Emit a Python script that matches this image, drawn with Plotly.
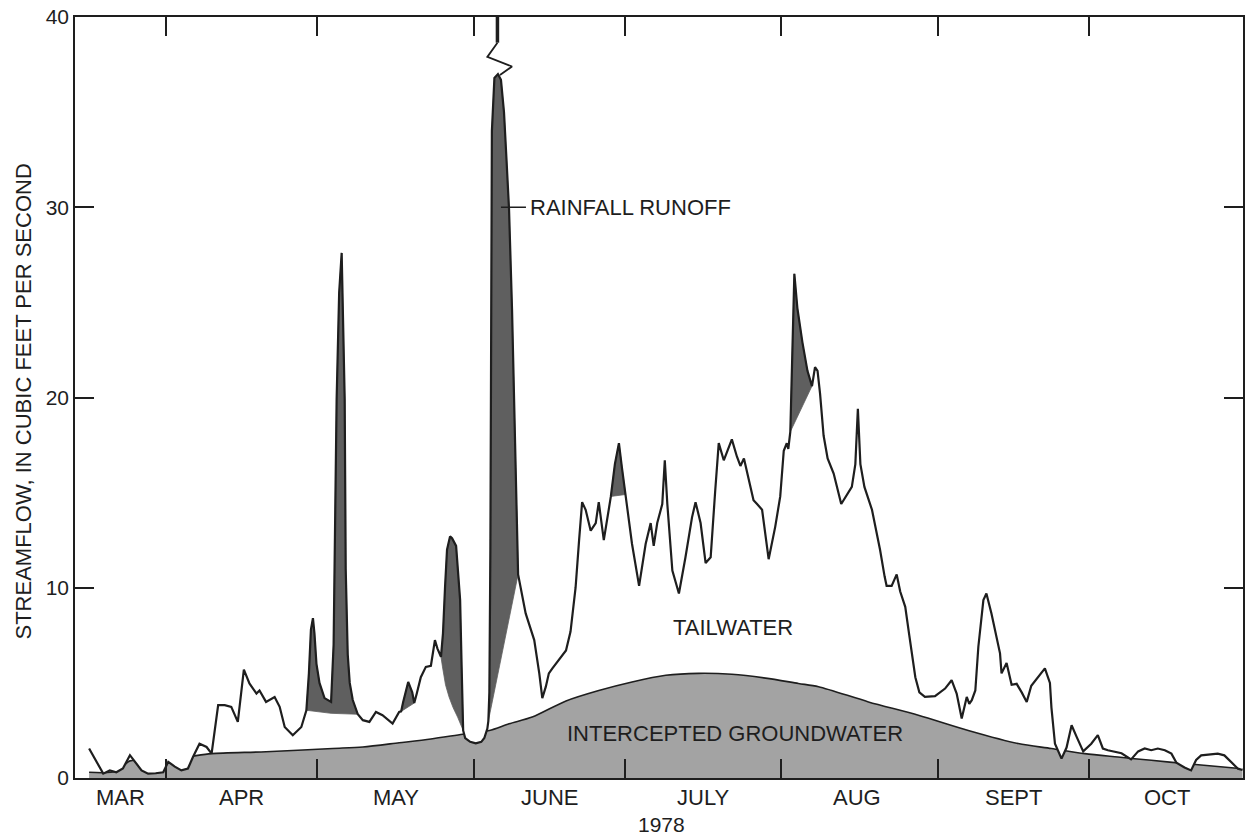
import plotly.graph_objects as go

# ---- streamflow record, 1978 (x = day of year, y = cubic feet per second) ----
flow_doy = [
    75.7, 78.5, 79.8, 81.1, 82.4, 83.8, 86.1, 87.4, 88.9, 90.4, 91.4, 92.7, 94.0, 95.3,
    96.3, 97.6, 99.0, 100.0, 101.3, 102.6, 103.9, 105.2, 106.4, 107.5, 108.9, 109.5,
    110.8, 112.5, 113.5, 114.5, 116.1, 117.8, 118.8, 119.3, 119.7, 120.1, 120.4, 120.8,
    121.4, 122.4, 123.7, 124.2, 124.8, 125.3, 125.8, 126.1, 126.4, 126.6, 127.0, 127.4,
    128.0, 129.0, 130.0, 131.3, 132.6, 133.9, 135.9, 137.2, 137.6, 138.0, 139.0, 139.8,
    140.2, 140.7, 141.5, 142.5, 143.5, 144.3, 144.8, 145.5, 145.9, 146.3, 146.7, 147.3,
    147.7, 148.5, 149.3, 149.6, 149.8, 149.9, 150.3, 151.3, 152.4, 153.5, 154.1, 154.7,
    154.9, 155.1, 155.3, 155.4, 155.6, 156.1, 156.8, 157.4, 158.0, 158.5, 159.0, 159.6,
    160.0, 160.4, 160.8, 162.3, 164.0, 165.0, 165.6, 166.3, 166.9, 167.6, 168.9, 170.3,
    171.2, 172.2, 172.9, 173.5, 174.2, 175.2, 176.2, 176.8, 177.8, 179.2, 180.0, 180.8,
    181.4, 182.1, 183.4, 184.8, 186.1, 187.1, 187.7, 188.4, 189.4, 189.9, 190.4, 191.4,
    192.7, 194.0, 195.3, 196.0, 197.0, 198.0, 199.0, 199.9, 200.6, 201.6, 203.2, 204.2,
    204.9, 205.6, 206.5, 207.5, 208.2, 209.2, 210.5, 211.8, 212.8, 213.5, 214.1, 214.4,
    214.8, 215.2, 215.6, 216.2, 217.2, 218.2, 219.1, 219.7, 220.2, 220.7, 221.4, 222.2,
    223.4, 224.9, 225.9, 227.0, 227.7, 228.2, 228.7, 229.5, 231.0, 232.6, 233.5, 233.9,
    234.9, 235.9, 236.6, 237.6, 238.4, 239.6, 240.4, 241.5, 243.5, 245.5, 246.8, 247.8,
    248.8, 249.8, 250.3, 250.8, 251.5, 252.1, 253.1, 253.7, 254.7, 255.4, 256.4, 256.7,
    257.7, 258.7, 259.7, 260.7, 261.7, 262.6, 264.0, 265.3, 266.3, 266.6, 267.3, 268.6,
    269.6, 270.6, 271.6, 272.9, 274.5, 275.8, 276.8, 277.8, 280.5, 282.4, 283.8, 285.1,
    286.4, 287.7, 289.1, 290.4, 291.4, 293.0, 294.3, 295.3, 296.3, 298.0, 299.6, 300.9,
    302.3, 303.6, 304.5,
]
flow_cfs = [
    1.55, 0.23, 0.4, 0.3, 0.5, 1.2, 0.4, 0.23, 0.25, 0.3, 0.85, 0.6, 0.4, 0.5,
    1.1, 1.8, 1.63, 1.28, 3.83, 3.83, 3.74, 2.95, 5.7, 4.97, 4.44, 4.6,
    4.0, 4.26, 3.74, 2.68, 2.25, 2.68, 3.56, 5.5, 7.8, 8.4, 7.6, 6.0,
    5.0, 4.2, 4.0, 7.0, 19.9, 25.5, 27.6, 24.0, 19.9, 11.0, 6.5, 5.0,
    4.1, 3.35, 3.04, 2.95, 3.47, 3.3, 2.86, 3.47, 3.5, 4.0, 5.05, 4.5,
    3.94, 4.44, 5.3, 5.84, 5.9, 7.25, 6.8, 6.37, 7.6, 10.0, 12.0, 12.7,
    12.6, 12.2, 9.35, 5.84, 3.2, 2.5, 2.1, 1.9, 1.82, 1.9, 2.1, 2.6,
    3.0, 4.5, 12.0, 25.0, 34.0, 36.8, 37.0, 36.7, 35.0, 32.5, 29.9, 24.6,
    19.9, 15.5, 10.7, 8.65, 7.25, 5.5, 4.2, 4.8, 5.5, 5.76, 6.2, 6.7,
    7.7, 10.0, 12.5, 14.5, 14.1, 13.0, 13.4, 14.5, 12.5, 14.8, 16.5, 17.6,
    16.3, 14.9, 12.3, 10.1, 12.3, 13.4, 12.2, 13.4, 14.4, 16.7, 14.4, 10.9,
    9.7, 11.6, 13.7, 14.5, 13.4, 11.3, 11.6, 15.1, 17.6, 16.7, 17.8, 16.9,
    16.4, 16.8, 15.8, 14.6, 14.4, 14.1, 11.5, 13.2, 14.8, 17.2, 17.6, 17.3,
    18.2, 22.5, 26.5, 24.7, 22.9, 21.4, 20.6, 21.6, 21.4, 20.2, 18.0, 16.8,
    16.0, 14.4, 14.8, 15.3, 16.5, 19.4, 16.5, 15.3, 14.1, 12.0, 10.6, 10.1,
    10.1, 10.7, 9.8, 9.0, 7.5, 5.3, 4.5, 4.26, 4.3, 4.7, 5.14, 4.44,
    3.13, 4.26, 3.9, 4.09, 4.6, 6.9, 9.35, 9.7, 8.65, 7.8, 6.55, 5.5,
    6.05, 4.9, 4.95, 4.5, 4.0, 4.85, 5.3, 5.76, 5.0, 3.7, 1.8, 1.02,
    1.6, 2.77, 2.16, 1.4, 1.8, 2.25, 1.55, 1.46, 1.3, 0.98, 1.4, 1.55,
    1.46, 1.55, 1.46, 1.28, 0.8, 0.55, 0.4, 0.95, 1.19, 1.25, 1.28, 1.19,
    0.84, 0.49, 0.42,
]

# ---- intercepted groundwater (base of the hydrograph) ----
gw_doy = [75.7, 81.1, 83.8, 88.0, 92.7, 96.3, 100.0, 110.8, 124.0, 130.0, 137.2, 143.5,
          149.8, 155.1, 159.0, 163.6, 170.3, 176.8, 183.4, 190.1, 196.6, 203.2, 209.9,
          216.4, 220.4, 230.3, 240.2, 250.1, 260.0, 266.6, 273.2, 279.8, 286.4, 293.0, 304.5]
gw_cfs = [0.3, 0.35, 0.9, 0.9, 1.0, 1.15, 1.28, 1.38, 1.55, 1.63, 1.85, 2.05,
          2.3, 2.5, 2.85, 3.2, 4.05, 4.6, 5.05, 5.4, 5.5, 5.45, 5.25,
          4.97, 4.8, 4.0, 3.3, 2.5, 1.81, 1.55, 1.28, 1.1, 0.93, 0.76, 0.49]

# ---- rainfall-runoff separation lines (lower edge of each storm event) ----
runoff_events = [
    ([118.8, 123.7, 129.0], [3.56, 3.4, 3.35]),
    ([137.6, 140.2], [3.5, 3.94]),
    ([145.5, 145.8, 146.4, 147.1, 147.9, 148.8, 149.9], [6.37, 5.84, 4.9, 4.26, 3.7, 3.2, 2.5]),
    ([154.9, 160.8], [3.0, 10.7]),
    ([179.2, 182.1], [14.8, 14.9]),
    ([214.8, 219.1], [18.2, 20.6]),
]

# off-scale peak: break symbol above the June storm
break_doy = [156.7, 154.7, 159.6, 157.2]
break_cfs = [38.65, 37.9, 37.4, 36.95]
stub_doy = [156.7, 156.7]
stub_cfs = [40.0, 38.65]

month_starts = [91, 121, 152, 182, 213, 244, 274]
month_mid = [82, 106, 136.5, 167, 197.5, 228, 259, 289.5]
month_names = ["MAR", "APR", "MAY", "JUNE", "JULY", "AUG", "SEPT", "OCT"]
y_ticks = [0, 10, 20, 30, 40]

X_RANGE = [72.9, 304.6]
Y_TOP = 40

INK = "#1e1e1e"
GW_GRAY = "#a3a3a3"
RUNOFF_GRAY = "#5f5f5f"
FONT = "Liberation Sans, Arial, sans-serif"

fig = go.Figure()

# groundwater area
fig.add_trace(go.Scatter(
    x=gw_doy, y=gw_cfs, mode="lines", fill="tozeroy", fillcolor=GW_GRAY,
    line=dict(color=INK, width=1.6, shape="spline", smoothing=0.8),
    hoverinfo="skip", showlegend=False))

# white above the streamflow curve, so the gray never rises above the flow
fig.add_trace(go.Scatter(
    x=flow_doy + [flow_doy[-1], flow_doy[0]],
    y=flow_cfs + [Y_TOP, Y_TOP],
    mode="lines", fill="toself", fillcolor="white",
    line=dict(width=0, color="white"), hoverinfo="skip", showlegend=False))

# rainfall runoff: between the hydrograph and each separation line
for sep_x, sep_y in runoff_events:
    seg = [(d, q) for d, q in zip(flow_doy, flow_cfs) if sep_x[0] <= d <= sep_x[-1]]
    px = [d for d, _ in seg] + sep_x[::-1]
    py = [q for _, q in seg] + sep_y[::-1]
    fig.add_trace(go.Scatter(
        x=px, y=py, mode="lines", fill="toself", fillcolor=RUNOFF_GRAY,
        line=dict(color=RUNOFF_GRAY, width=0.8), hoverinfo="skip", showlegend=False))

# hydrograph
fig.add_trace(go.Scatter(
    x=flow_doy, y=flow_cfs, mode="lines",
    line=dict(color=INK, width=2.2), hoverinfo="skip", showlegend=False))

# break symbol
fig.add_trace(go.Scatter(x=stub_doy, y=stub_cfs, mode="lines",
                         line=dict(color=INK, width=3.5), hoverinfo="skip", showlegend=False))
fig.add_trace(go.Scatter(x=break_doy, y=break_cfs, mode="lines",
                         line=dict(color=INK, width=1.8), hoverinfo="skip", showlegend=False))

annotations = []
for mid, name in zip(month_mid, month_names):
    annotations.append(dict(x=mid, y=0, xref="x", yref="paper", text=name,
                            showarrow=False, yshift=-19, yanchor="middle",
                            font=dict(size=22, color=INK, family=FONT)))
annotations.append(dict(x=189.3, y=0, xref="x", yref="paper", text="1978",
                        showarrow=False, yshift=-46, yanchor="middle",
                        font=dict(size=21, color=INK, family=FONT)))
annotations.append(dict(x=0, y=0.5, xref="paper", yref="paper",
                        text="STREAMFLOW, IN CUBIC FEET PER SECOND",
                        textangle=-90, showarrow=False, xshift=-52, yshift=-4,
                        xanchor="center", yanchor="middle",
                        font=dict(size=22, color=INK, family=FONT)))
annotations.append(dict(x=157.4, y=30, xref="x", yref="y", text="RAINFALL RUNOFF",
                        showarrow=True, arrowhead=0, arrowwidth=1.4, arrowcolor=INK,
                        ax=130, ay=0, axref="pixel", ayref="pixel", borderpad=4,
                        font=dict(size=22, color=INK, family=FONT)))
annotations.append(dict(x=203.4, y=7.9, xref="x", yref="y", text="TAILWATER",
                        showarrow=False, font=dict(size=22, color=INK, family=FONT)))
annotations.append(dict(x=203.9, y=2.35, xref="x", yref="y", text="INTERCEPTED GROUNDWATER",
                        showarrow=False, font=dict(size=22, color=INK, family=FONT)))

fig.update_layout(
    width=1250, height=838,
    margin=dict(l=75, r=5, t=17, b=60),
    paper_bgcolor="white", plot_bgcolor="white",
    showlegend=False,
    annotations=annotations,
    xaxis=dict(range=X_RANGE, tickmode="array", tickvals=month_starts,
               showticklabels=False, ticks="inside", ticklen=19, tickwidth=1.5,
               tickcolor=INK, showline=True, linecolor=INK, linewidth=1.6,
               mirror="ticks", showgrid=False, zeroline=False),
    yaxis=dict(range=[0, Y_TOP], tickmode="array", tickvals=y_ticks,
               ticks="inside", ticklen=19, tickwidth=1.5, tickcolor=INK,
               showline=True, linecolor=INK, linewidth=1.6, mirror="ticks",
               showgrid=False, zeroline=False,
               tickfont=dict(size=21, color=INK, family=FONT)),
)

fig.write_html("out.html")
